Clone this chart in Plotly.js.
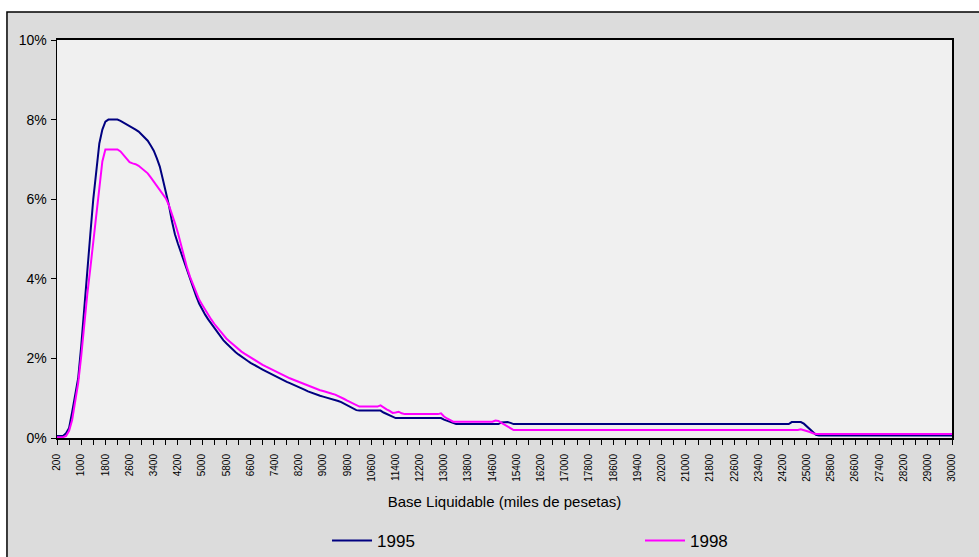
<!DOCTYPE html>
<html><head><meta charset="utf-8">
<script src="https://cdn.plot.ly/plotly-3.0.1.min.js"></script>
<style>html,body{margin:0;padding:0;background:#fff}#chart{width:979px;height:557px}</style>
</head><body><div id="chart"></div>
<script>
const categories = [
200,300,400,500,600,700,800,900,1000,1100,
1200,1300,1400,1500,1600,1700,1800,1900,2000,2100,
2200,2300,2400,2500,2600,2700,2800,2900,3000,3100,
3200,3300,3400,3500,3600,3700,3800,3900,4000,4100,
4200,4300,4400,4500,4600,4700,4800,4900,5000,5100,
5200,5300,5400,5500,5600,5700,5800,5900,6000,6100,
6200,6300,6400,6500,6600,6700,6800,6900,7000,7100,
7200,7300,7400,7500,7600,7700,7800,7900,8000,8100,
8200,8300,8400,8500,8600,8700,8800,8900,9000,9100,
9200,9300,9400,9500,9600,9700,9800,9900,10000,10100,
10200,10300,10400,10500,10600,10700,10800,10900,11000,11100,
11200,11300,11400,11500,11600,11700,11800,11900,12000,12100,
12200,12300,12400,12500,12600,12700,12800,12900,13000,13100,
13200,13300,13400,13500,13600,13700,13800,13900,14000,14100,
14200,14300,14400,14500,14600,14700,14800,14900,15000,15100,
15200,15300,15400,15500,15600,15700,15800,15900,16000,16100,
16200,16300,16400,16500,16600,16700,16800,16900,17000,17100,
17200,17300,17400,17500,17600,17700,17800,17900,18000,18100,
18200,18300,18400,18500,18600,18700,18800,18900,19000,19100,
19200,19300,19400,19500,19600,19700,19800,19900,20000,20100,
20200,20300,20400,20500,20600,20700,20800,20900,21000,21100,
21200,21300,21400,21500,21600,21700,21800,21900,22000,22100,
22200,22300,22400,22500,22600,22700,22800,22900,23000,23100,
23200,23300,23400,23500,23600,23700,23800,23900,24000,24100,
24200,24300,24400,24500,24600,24700,24800,24900,25000,25100,
25200,25300,25400,25500,25600,25700,25800,25900,26000,26100,
26200,26300,26400,26500,26600,26700,26800,26900,27000,27100,
27200,27300,27400,27500,27600,27700,27800,27900,28000,28100,
28200,28300,28400,28500,28600,28700,28800,28900,29000,29100,
29200,29300,29400,29500,29600,29700,30000
];

const tickLabels = ['200','1000','1800','2600','3400','4200','5000','5800','6600','7400','8200','9000','9800','10600','11400','12200','13000','13800','14600','15400','16200','17000','17800','18600','19400','20200','21000','21800','22600','23400','24200','25000','25800','26600','27400','28200','29000','30000'];

const values1995 = [
0.05,0.05,0.05,0.12,0.25,0.65,1.05,1.50,2.30,3.30,
4.20,5.10,6.00,6.80,7.40,7.75,7.95,8.00,8.00,8.00,
8.00,7.97,7.93,7.89,7.85,7.80,7.75,7.70,7.63,7.56,
7.47,7.35,7.22,7.03,6.82,6.50,6.18,5.85,5.45,5.12,
4.88,4.66,4.43,4.20,4.00,3.78,3.57,3.38,3.23,3.10,
2.98,2.87,2.76,2.65,2.55,2.46,2.38,2.30,2.23,2.16,
2.10,2.04,1.99,1.94,1.89,1.84,1.80,1.76,1.72,1.68,
1.64,1.60,1.56,1.52,1.48,1.44,1.41,1.38,1.35,1.31,
1.28,1.24,1.21,1.17,1.14,1.11,1.09,1.06,1.04,1.02,
1.00,0.98,0.96,0.93,0.90,0.86,0.82,0.79,0.74,0.70,
0.69,0.69,0.69,0.69,0.69,0.69,0.69,0.69,0.64,0.60,
0.56,0.52,0.50,0.50,0.50,0.50,0.50,0.50,0.50,0.50,
0.50,0.50,0.50,0.50,0.50,0.50,0.50,0.50,0.46,0.43,
0.40,0.37,0.35,0.35,0.35,0.35,0.35,0.35,0.35,0.35,
0.35,0.35,0.35,0.35,0.35,0.35,0.35,0.39,0.40,0.40,
0.38,0.35,0.35,0.35,0.35,0.35,0.35,0.35,0.35,0.35,
0.35,0.35,0.35,0.35,0.35,0.35,0.35,0.35,0.35,0.35,
0.35,0.35,0.35,0.35,0.35,0.35,0.35,0.35,0.35,0.35,
0.35,0.35,0.35,0.35,0.35,0.35,0.35,0.35,0.35,0.35,
0.35,0.35,0.35,0.35,0.35,0.35,0.35,0.35,0.35,0.35,
0.35,0.35,0.35,0.35,0.35,0.35,0.35,0.35,0.35,0.35,
0.35,0.35,0.35,0.35,0.35,0.35,0.35,0.35,0.35,0.35,
0.35,0.35,0.35,0.35,0.35,0.35,0.35,0.35,0.35,0.35,
0.35,0.35,0.35,0.35,0.35,0.35,0.35,0.35,0.35,0.35,
0.35,0.35,0.35,0.40,0.40,0.40,0.40,0.36,0.29,0.22,
0.14,0.08,0.06,0.06,0.06,0.06,0.06,0.06,0.06,0.06,
0.06,0.06,0.06,0.06,0.06,0.06,0.06,0.06,0.06,0.06,
0.06,0.06,0.06,0.06,0.06,0.06,0.06,0.06,0.06,0.06,
0.06,0.06,0.06,0.06,0.06,0.06,0.06,0.06,0.06,0.06,
0.06,0.06,0.06,0.06,0.06,0.06,0.06
];

const values1998 = [
0.02,0.02,0.02,0.05,0.18,0.45,0.95,1.38,2.05,2.85,
3.60,4.25,4.95,5.65,6.35,6.95,7.25,7.25,7.25,7.25,
7.25,7.20,7.10,7.00,6.93,6.90,6.88,6.84,6.78,6.73,
6.65,6.55,6.45,6.33,6.24,6.12,6.02,5.85,5.65,5.40,
5.15,4.85,4.55,4.28,4.05,3.85,3.65,3.48,3.35,3.22,
3.10,2.98,2.87,2.77,2.67,2.58,2.50,2.43,2.36,2.29,
2.23,2.17,2.12,2.07,2.02,1.97,1.92,1.88,1.84,1.80,
1.76,1.72,1.68,1.64,1.60,1.57,1.54,1.50,1.47,1.44,
1.41,1.37,1.34,1.31,1.28,1.25,1.23,1.20,1.18,1.15,
1.13,1.11,1.09,1.06,1.02,0.98,0.94,0.90,0.85,0.81,
0.79,0.79,0.79,0.79,0.79,0.79,0.79,0.82,0.76,0.72,
0.68,0.63,0.64,0.66,0.62,0.60,0.60,0.60,0.60,0.60,
0.60,0.60,0.60,0.60,0.60,0.60,0.60,0.62,0.54,0.49,
0.45,0.41,0.41,0.41,0.41,0.41,0.41,0.41,0.41,0.41,
0.41,0.41,0.41,0.41,0.41,0.44,0.43,0.38,0.33,0.29,
0.24,0.20,0.20,0.20,0.20,0.20,0.20,0.20,0.20,0.20,
0.20,0.20,0.20,0.20,0.20,0.20,0.20,0.20,0.20,0.20,
0.20,0.20,0.20,0.20,0.20,0.20,0.20,0.20,0.20,0.20,
0.20,0.20,0.20,0.20,0.20,0.20,0.20,0.20,0.20,0.20,
0.20,0.20,0.20,0.20,0.20,0.20,0.20,0.20,0.20,0.20,
0.20,0.20,0.20,0.20,0.20,0.20,0.20,0.20,0.20,0.20,
0.20,0.20,0.20,0.20,0.20,0.20,0.20,0.20,0.20,0.20,
0.20,0.20,0.20,0.20,0.20,0.20,0.20,0.20,0.20,0.20,
0.20,0.20,0.20,0.20,0.20,0.20,0.20,0.20,0.20,0.20,
0.20,0.20,0.20,0.20,0.20,0.20,0.22,0.20,0.17,0.15,
0.12,0.10,0.10,0.10,0.10,0.10,0.10,0.10,0.10,0.10,
0.10,0.10,0.10,0.10,0.10,0.10,0.10,0.10,0.10,0.10,
0.10,0.10,0.10,0.10,0.10,0.10,0.10,0.10,0.10,0.10,
0.10,0.10,0.10,0.10,0.10,0.10,0.10,0.10,0.10,0.10,
0.10,0.10,0.10,0.10,0.10,0.10,0.10
];

const seriesNames = ['1995', '1998'];
const seriesColors = ['#000080', '#ff00ff'];
const seriesLegends = ['legend', 'legend2'];

const cats = categories.map(String);
// tick marks every 4 categories, labels every 8 (from tickLabels)
const tickVals = cats.filter((c, i) => i % 4 === 0);
const tickText = tickVals.map(c => tickLabels.includes(c) ? c : '');

const FONT = 'Liberation Sans, Arial, sans-serif';

const traces = [values1995, values1998].map((vals, k) => ({
  type: 'scatter', mode: 'lines',
  x: cats, y: vals, name: seriesNames[k], legend: seriesLegends[k],
  line: {color: seriesColors[k], width: 2},
  hoverinfo: 'skip'
}));

const legendBase = {
  orientation: 'h', xanchor: 'left', yref: 'container', y: 0.029, yanchor: 'middle',
  font: {size: 17, family: FONT, color: '#000'},
  bgcolor: 'rgba(0,0,0,0)', itemwidth: 40, borderwidth: 0
};

const layout = {
  width: 979, height: 557,
  margin: {l: 57, r: 27, t: 40, b: 119, pad: 0},
  paper_bgcolor: '#ffffff',
  plot_bgcolor: '#f0f0f0',
  font: {family: FONT, color: '#000'},
  showlegend: true,
  legend: Object.assign({}, legendBase, {x: 0.3017}),
  legend2: Object.assign({}, legendBase, {x: 0.6514}),
  xaxis: {
    type: 'category', categoryorder: 'array', categoryarray: cats,
    range: [0, cats.length - 1], autorange: false,
    tickmode: 'array', tickvals: tickVals, ticktext: tickText,
    tickangle: -90, tickfont: {size: 10, family: FONT, color: '#000'},
    ticks: 'outside', ticklen: 5, tickwidth: 1, tickcolor: '#000',
    showline: true, linecolor: '#000', linewidth: 2, mirror: true,
    showgrid: false, zeroline: false, ticklabelstandoff: 5, automargin: false,
    title: {text: 'Base Liquidable (miles de pesetas)', font: {size: 15, family: FONT, color: '#000'}, standoff: 16}
  },
  yaxis: {
    range: [0, 10], autorange: false, dtick: 2, tick0: 0, ticksuffix: '%',
    tickfont: {size: 14, family: FONT, color: '#000'},
    ticks: 'outside', ticklen: 5, tickwidth: 1, tickcolor: '#000',
    showline: true, linecolor: '#000', linewidth: 1.5, mirror: true,
    showgrid: false, zeroline: false, ticklabelstandoff: 1, automargin: false
  },
  shapes: [{
    type: 'rect', xref: 'paper', yref: 'paper', layer: 'below',
    x0: -0.0559, x1: 1.06, y0: -0.36, y1: 1.0704,
    fillcolor: '#dcdcdc', line: {color: '#000', width: 1.5}
  }, {
    type: 'rect', xref: 'paper', yref: 'paper', layer: 'below',
    x0: 0, x1: 1, y0: 0, y1: 1,
    fillcolor: '#f0f0f0', line: {width: 0}
  }]
};

Plotly.newPlot('chart', traces, layout, {displayModeBar: false, staticPlot: true});
</script>
</body></html>
